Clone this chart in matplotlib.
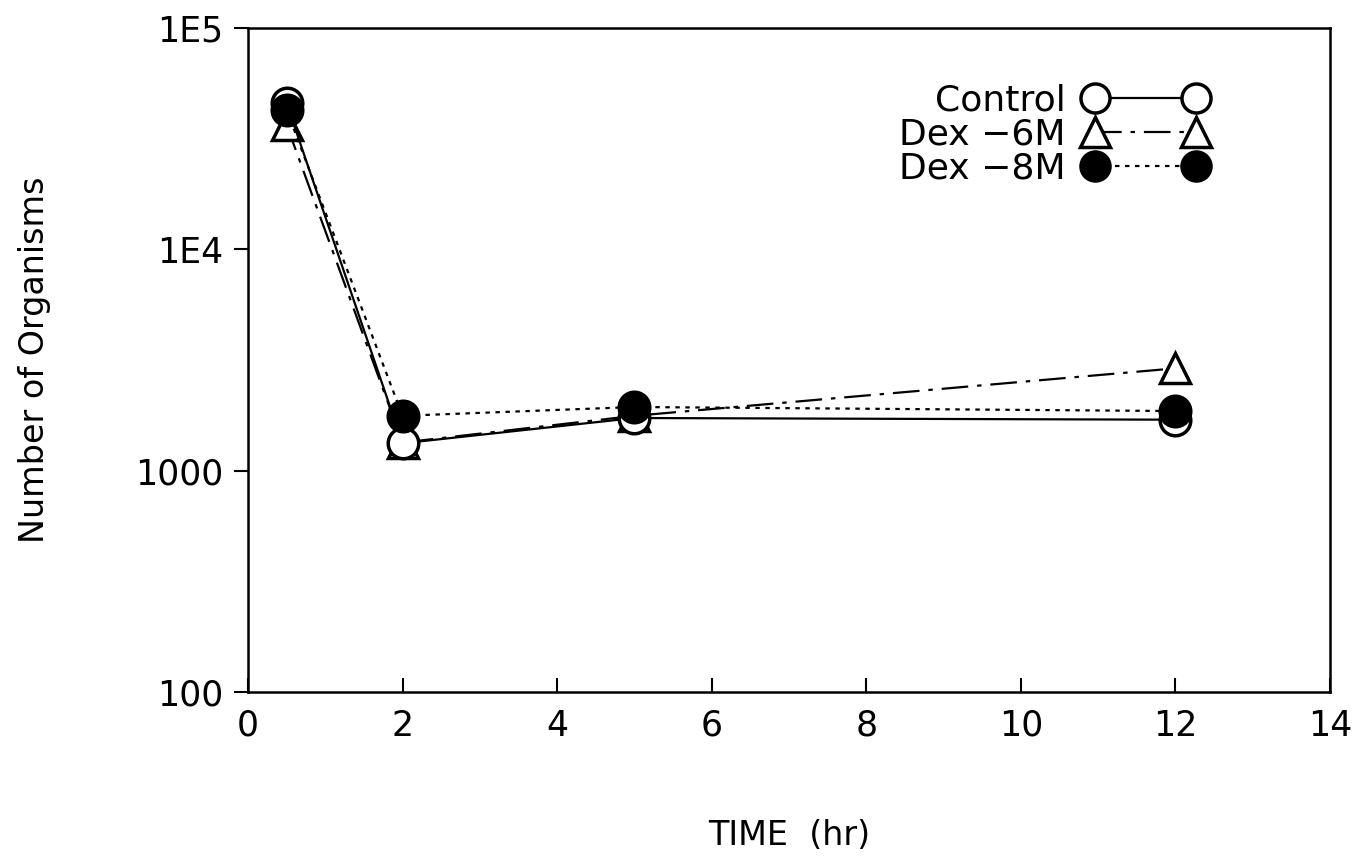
#!/usr/bin/env python3
import numpy as np
import matplotlib as mpl
mpl.use('Agg')
from matplotlib import pyplot as plt
from matplotlib.ticker import FixedLocator, NullLocator

# time points (hr)
time_hr = [0.5, 2, 5, 12]

# organism counts
control = [45700, 1330, 1730, 1700]
dex_6m = [36500, 1340, 1770, 2900]
dex_8m = [42600, 1770, 1940, 1860]

labels = ['Control', 'Dex \u22126M', 'Dex \u22128M']
xticks = [0, 2, 4, 6, 8, 10, 12, 14]
yticks = [100, 1000, 1e4, 1e5]
yticklabels = ['100', '1000', '1E4', '1E5']

plt.rcParams['font.family'] = ['DejaVu Sans']

fig = plt.figure(figsize=(13.52, 8.64), dpi=100)
ax = fig.add_axes([0.1834, 0.199, 0.8003, 0.7686])

lw = 1.6
ms = 22
ax.plot(time_hr, dex_6m, color='black', lw=lw, ls=(0, (12, 4, 2, 4)),
        marker='^', ms=ms, mfc='white', mec='black', mew=2.5,
        label=labels[1])
ax.plot(time_hr, control, color='black', lw=lw, ls='-',
        marker='o', ms=ms, mfc='white', mec='black', mew=2.5,
        label=labels[0])
ax.plot(time_hr, dex_8m, color='black', lw=lw, ls=(0, (2, 2.5)),
        marker='o', ms=ms, mfc='black', mec='black', mew=2.5,
        label=labels[2])

ax.set_yscale('log')
ax.set_xlim(0, 14)
ax.set_ylim(100, 1e5)

ax.xaxis.set_major_locator(FixedLocator(xticks))
ax.set_xticklabels([str(t) for t in xticks])
ax.yaxis.set_major_locator(FixedLocator(yticks))
ax.yaxis.set_minor_locator(NullLocator())
ax.set_yticklabels(yticklabels)

ax.tick_params(axis='x', direction='in', length=10, width=1.5,
               labelsize=25, pad=12)
ax.tick_params(axis='y', direction='out', length=10, width=1.5,
               labelsize=25, pad=8)
for sp in ax.spines.values():
    sp.set_linewidth(1.8)

ax.set_xlabel('TIME  (hr)', fontsize=24, labelpad=55)
ax.set_ylabel('Number of Organisms', fontsize=24, labelpad=60)

h, l = ax.get_legend_handles_labels()
order = [1, 0, 2]
ax.legend([h[i] for i in order], [l[i] for i in order],
          loc='upper right', bbox_to_anchor=(0.886, 0.916),
          borderaxespad=0, borderpad=0,
          frameon=False, markerfirst=False, numpoints=2,
          fontsize=26, handlelength=3.4, handletextpad=0.5,
          labelspacing=0.0, markerscale=0.95)

fig.savefig('out.png', dpi=100)
